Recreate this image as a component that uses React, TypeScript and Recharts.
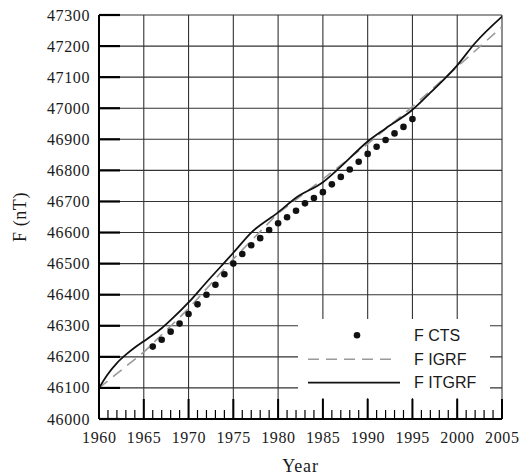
import {
  CartesianGrid,
  ComposedChart,
  Label,
  Legend,
  Line,
  XAxis,
  YAxis,
} from "recharts";

const SERIF = "'Liberation Serif', 'Times New Roman', serif";
const SANS = "'Liberation Sans', Arial, sans-serif";
const INK = "#1a1a1a";
const GRID = "#333";
const IGRF_GRAY = "#9a9a9a";

// F CTS — yearly observatory values (dots)
const ctsYears = [
  1966, 1967, 1968, 1969, 1970, 1971, 1972, 1973, 1974, 1975, 1976, 1977,
  1978, 1979, 1980, 1981, 1982, 1983, 1984, 1985, 1986, 1987, 1988, 1989,
  1990, 1991, 1992, 1993, 1994, 1995,
];
const ctsValues = [
  46233, 46255, 46281, 46307, 46338, 46369, 46400, 46432, 46466, 46500, 46531,
  46559, 46582, 46608, 46630, 46649, 46670, 46694, 46711, 46730, 46755, 46779,
  46803, 46828, 46853, 46876, 46898, 46919, 46940, 46965,
];

// F IGRF — epoch values (dashed)
const igrfYears = [1960, 1965, 1970, 1975, 1980, 1985, 1990, 1995, 2000, 2005];
const igrfValues = [
  46100, 46215, 46355, 46515, 46662, 46772, 46885, 47005, 47133, 47262,
];

// F ITGRF (solid)
const itgrfYears = [
  1960, 1961, 1962, 1963, 1964, 1965, 1966, 1967, 1968, 1970, 1972, 1975,
  1977, 1980, 1982, 1985, 1987, 1990, 1992, 1995, 1997, 2000, 2002, 2005,
];
const itgrfValues = [
  46100, 46145, 46180, 46207, 46230, 46250, 46270, 46292, 46318, 46375, 46440,
  46535, 46600, 46665, 46712, 46762, 46812, 46893, 46935, 46995, 47050, 47138,
  47210, 47295,
];

const yearTicks = [1960, 1965, 1970, 1975, 1980, 1985, 1990, 1995, 2000, 2005];
const minorYearTicks = Array.from({ length: 46 }, (_, i) => 1960 + i);
const fTicks = [
  46000, 46100, 46200, 46300, 46400, 46500, 46600, 46700, 46800, 46900, 47000,
  47100, 47200, 47300,
];

const ctsData = ctsYears.map((year, i) => ({ year, value: ctsValues[i] }));
const igrfData = igrfYears.map((year, i) => ({ year, value: igrfValues[i] }));
const itgrfData = itgrfYears.map((year, i) => ({ year, value: itgrfValues[i] }));

function YearTick(props: any) {
  const { x, y, payload } = props;
  const yr = payload.value as number;
  const major = yr % 5 === 0;
  return (
    <g>
      <line
        x1={x}
        x2={x}
        y1={y}
        y2={y - (major ? 20 : 9)}
        stroke="#000"
        strokeWidth={major ? 2 : 1.2}
      />
      {major && (
        <text
          x={x + 0.3}
          y={y + 24}
          textAnchor="middle"
          fontFamily={SERIF}
          fontSize={16}
          letterSpacing={0.6}
          fill={INK}
        >
          {yr}
        </text>
      )}
    </g>
  );
}

function FTick(props: any) {
  const { x, y, payload } = props;
  return (
    <g>
      <line x1={x} x2={x + 21} y1={y} y2={y} stroke="#000" strokeWidth={2.2} />
      <text
        x={x - 9}
        y={y + 5.5}
        textAnchor="end"
        fontFamily={SERIF}
        fontSize={16}
        letterSpacing={0.6}
        fill={INK}
      >
        {payload.value}
      </text>
    </g>
  );
}

function RightTick(props: any) {
  const { x, y } = props;
  return <line x1={x} x2={x - 10} y1={y} y2={y} stroke="#000" strokeWidth={1.5} />;
}

function LegendBox() {
  return (
    <svg width={192} height={79} style={{ display: "block" }}>
      <circle cx={59} cy={16.3} r={3.3} fill="#111" />
      <line x1={10} x2={100} y1={40.3} y2={40.3} stroke={IGRF_GRAY} strokeWidth={1.6} strokeDasharray="11 7" />
      <line x1={10} x2={102} y1={63.7} y2={63.7} stroke="#111" strokeWidth={1.8} />
      {["F CTS", "F IGRF", "F ITGRF"].map((t, i) => (
        <text key={t} x={116} y={22 + i * 23.7} fontFamily={SANS} fontSize={16} fill={INK}>
          {t}
        </text>
      ))}
    </svg>
  );
}

export default function App() {
  return (
    <div style={{ position: "absolute", left: 0, top: 0, width: 520, height: 476, background: "#fff" }}>
      <ComposedChart
        width={520}
        height={476}
        margin={{ top: 15, right: 0, bottom: 0, left: 0 }}
      >
        <CartesianGrid stroke={GRID} strokeWidth={1.1} verticalValues={yearTicks} />
        <XAxis
          dataKey="year"
          type="number"
          domain={[1960, 2005]}
          ticks={minorYearTicks}
          interval={0}
          tickSize={0}
          tickMargin={0}
          tickLine={false}
          tick={<YearTick />}
          height={57}
          axisLine={{ stroke: "#000", strokeWidth: 2 }}
          allowDataOverflow
        >
          <Label
            content={({ viewBox }: any) => (
              <text
                x={viewBox.x + viewBox.width / 2}
                y={viewBox.y + 53}
                textAnchor="middle"
                fontFamily={SERIF}
                fontSize={18}
                letterSpacing={0.8}
                fill={INK}
              >
                Year
              </text>
            )}
          />
        </XAxis>
        <YAxis
          type="number"
          domain={[46000, 47300]}
          ticks={fTicks}
          interval={0}
          tickSize={0}
          tickMargin={0}
          tickLine={false}
          tick={<FTick />}
          width={99}
          axisLine={{ stroke: "#000", strokeWidth: 2 }}
          allowDataOverflow
        >
          <Label
            content={({ viewBox }: any) => {
              const cx = 26;
              const cy = viewBox.y + viewBox.height / 2;
              return (
                <text
                  x={cx}
                  y={cy}
                  transform={`rotate(-90 ${cx} ${cy})`}
                  textAnchor="middle"
                  fontFamily={SERIF}
                  fontSize={18}
                  letterSpacing={0.6}
                  fill={INK}
                >
                  F (nT)
                </text>
              );
            }}
          />
        </YAxis>
        <YAxis
          yAxisId="right"
          orientation="right"
          type="number"
          domain={[46000, 47300]}
          ticks={fTicks}
          interval={0}
          tickSize={0}
          tickMargin={0}
          tickLine={false}
          tick={<RightTick />}
          width={18}
          axisLine={false}
        />
        <Line
          data={igrfData}
          dataKey="value"
          type="linear"
          stroke={IGRF_GRAY}
          strokeWidth={1.6}
          strokeDasharray="11 7"
          dot={false}
          activeDot={false}
          isAnimationActive={false}
        />
        <Line
          data={itgrfData}
          dataKey="value"
          type="monotone"
          stroke="#111"
          strokeWidth={1.8}
          dot={false}
          activeDot={false}
          isAnimationActive={false}
        />
        <Line
          data={ctsData}
          dataKey="value"
          stroke="none"
          dot={{ r: 3.3, fill: "#111", stroke: "none" }}
          activeDot={false}
          isAnimationActive={false}
        />
        <Legend
          layout="vertical"
          align="center"
          verticalAlign="middle"
          content={() => <LegendBox />}
          wrapperStyle={{
            position: "absolute",
            left: 298,
            top: 319,
            width: 192,
            height: 79,
            background: "#fff",
            margin: 0,
          }}
        />
      </ComposedChart>
    </div>
  );
}
